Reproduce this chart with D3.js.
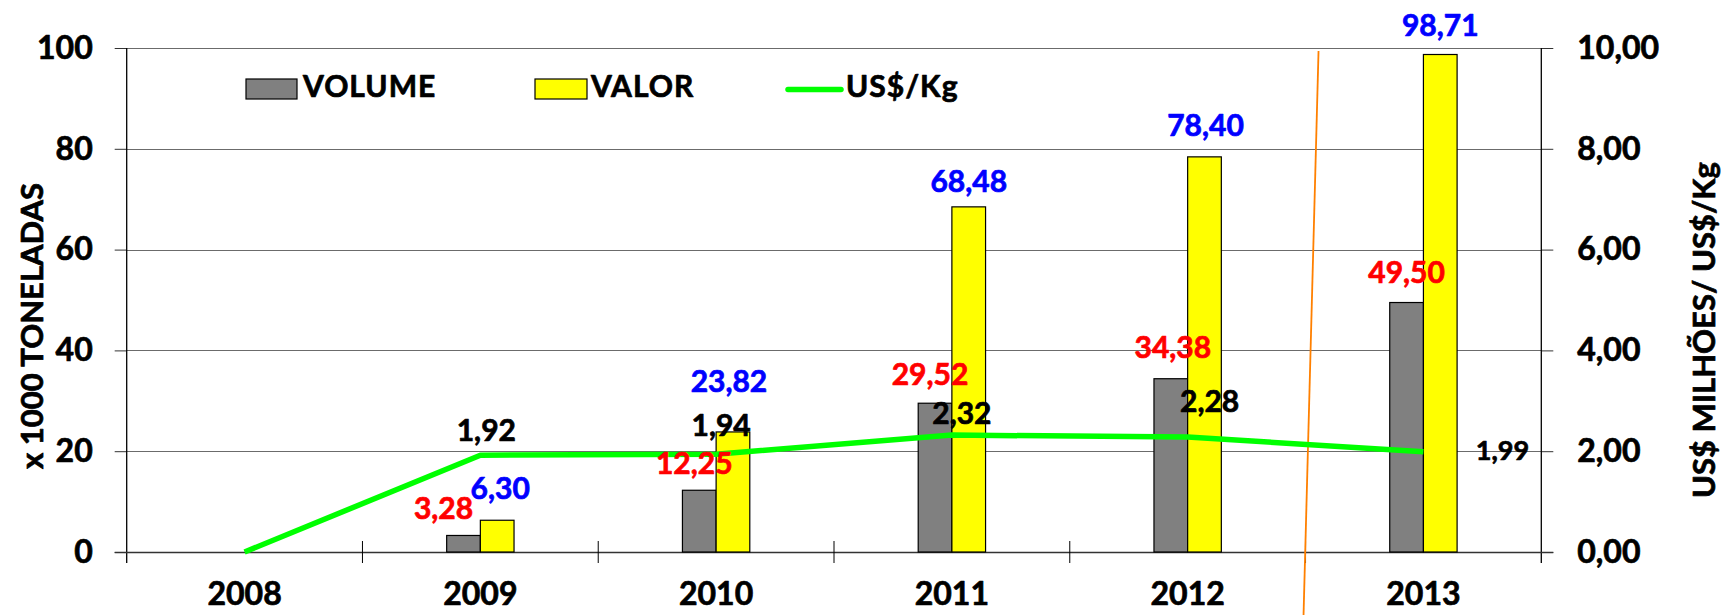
<!DOCTYPE html>
<html>
<head>
<meta charset="utf-8">
<script src="https://cdn.jsdelivr.net/npm/d3@7"></script>
<style>
  html, body { margin: 0; padding: 0; background: #fff; }
  svg { display: block; }
  text { font-family: Lato, "Open Sans", sans-serif; font-weight: bold; paint-order: stroke; stroke-width: 0.7px; stroke-linejoin: round; }
</style>
</head>
<body>
<svg id="chart" width="1723" height="615"></svg>
<script>
// ---- data ----
const years = ["2008", "2009", "2010", "2011", "2012", "2013"];
const volume = [null, 3.28, 12.25, 29.52, 34.38, 49.50];      // x 1000 toneladas
const valor = [null, 6.30, 23.82, 68.48, 78.40, 98.71];       // US$ milhões (left scale as drawn)
const precoKg = [0, 1.92, 1.94, 2.32, 2.28, 1.99];            // US$/Kg (right axis)
const leftTicks = [0, 20, 40, 60, 80, 100];
const rightTicks = [0, 2, 4, 6, 8, 10];
const seriesNames = ["VOLUME", "VALOR", "US$/Kg"];

// ---- label nudges (layout, px) ----
const volLabelOff = [null, [-20, -16], [-5, -16], [-5, -18], [2, -21], [0, -20]];
const valLabelOff = [null, [3, -21], [-4, -40], [0, -15], [1, -21], [0, -19]];
const lineLabelOff = [null, [6, -14], [5, -18], [10, -11], [22, -25], [79, 8]];

const fmt = v => v.toFixed(2).replace(".", ",");

const svg = d3.select("#chart");
const L = 126.7, R = 1541.3, T = 48, B = 552;

const x = d3.scaleBand().domain(years).range([L, R]).paddingInner(0).paddingOuter(0);
const yL = d3.scaleLinear().domain([0, 100]).range([B, T]);
const yR = d3.scaleLinear().domain([0, 10]).range([B, T]);
const bw = x.bandwidth() / 7;
const cx = d => x(d) + x.bandwidth() / 2;

function styleText(sel, size, color) {
  sel.attr("font-size", size).attr("fill", color).attr("stroke", color)
    .attr("font-family", "Lato").attr("font-weight", "bold");
}

// gridlines
svg.append("g").selectAll("line").data(leftTicks.slice(1)).join("line")
  .attr("x1", L).attr("x2", R)
  .attr("y1", d => Math.round(yL(d)) + 0.5).attr("y2", d => Math.round(yL(d)) + 0.5)
  .attr("stroke", "#6b6b6b").attr("stroke-width", 1.2);

// left axis
const gl = svg.append("g").attr("transform", `translate(${L},0)`)
  .call(d3.axisLeft(yL).tickValues(leftTicks).tickSize(12).tickPadding(22).tickFormat(d => d));
gl.select(".domain").remove();
gl.selectAll(".tick line").attr("stroke", "#333");
styleText(gl.selectAll(".tick text"), 32, "#000");

// right axis
const gr = svg.append("g").attr("transform", `translate(${R},0)`)
  .call(d3.axisRight(yR).tickValues(rightTicks).tickSize(12).tickPadding(24).tickFormat(fmt));
gr.select(".domain").remove();
gr.selectAll(".tick line").attr("stroke", "#333");
styleText(gr.selectAll(".tick text"), 32, "#000");

// vertical axis lines
[L, R].forEach(xx => {
  svg.append("line").attr("x1", xx).attr("x2", xx).attr("y1", T).attr("y2", B + 11)
    .attr("stroke", "#000").attr("stroke-width", 1.3);
});
// x axis line
svg.append("line").attr("x1", L - 12).attr("x2", R + 12).attr("y1", B + 0.5).attr("y2", B + 0.5)
  .attr("stroke", "#333").attr("stroke-width", 1.3);
// category boundary ticks (cross)
svg.append("g").selectAll("line").data(years.slice(1)).join("line")
  .attr("x1", d => x(d)).attr("x2", d => x(d))
  .attr("y1", B - 11).attr("y2", B + 11)
  .attr("stroke", "#000").attr("stroke-width", 1);

// year labels
styleText(svg.append("g").selectAll("text").data(years).join("text")
  .attr("x", d => cx(d)).attr("y", 605)
  .attr("text-anchor", "middle").text(d => d), 32, "#000");

// bars
const volData = years.map((y, i) => ({ y, v: volume[i], i })).filter(d => d.v != null);
const valData = years.map((y, i) => ({ y, v: valor[i], i })).filter(d => d.v != null);

svg.append("g").selectAll("rect").data(volData).join("rect")
  .attr("x", d => cx(d.y) - bw).attr("width", bw)
  .attr("y", d => yL(d.v)).attr("height", d => B - yL(d.v))
  .attr("fill", "#808080").attr("stroke", "#000").attr("stroke-width", 1.2);

svg.append("g").selectAll("rect").data(valData).join("rect")
  .attr("x", d => cx(d.y)).attr("width", bw)
  .attr("y", d => yL(d.v)).attr("height", d => B - yL(d.v))
  .attr("fill", "#FFFF00").attr("stroke", "#000").attr("stroke-width", 1.2);

// orange annotation line
svg.append("line")
  .attr("x1", x("2013") + 13).attr("y1", T + 3)
  .attr("x2", x("2013") - 2).attr("y2", 615)
  .attr("stroke", "#FF8000").attr("stroke-width", 1.8);

// price line
const line = d3.line().x((d, i) => cx(years[i])).y(d => yR(d));
svg.append("path").datum(precoKg).attr("d", line)
  .attr("fill", "none").attr("stroke", "#00FF00").attr("stroke-width", 5.5)
  .attr("stroke-linejoin", "round");

// data labels
styleText(svg.append("g").selectAll("text").data(volData).join("text")
  .attr("x", d => cx(d.y) - bw / 2 + volLabelOff[d.i][0])
  .attr("y", d => yL(d.v) + volLabelOff[d.i][1])
  .attr("text-anchor", "middle").text(d => fmt(d.v)), 30, "#FF0000");

styleText(svg.append("g").selectAll("text").data(valData).join("text")
  .attr("x", d => cx(d.y) + bw / 2 + valLabelOff[d.i][0])
  .attr("y", d => yL(d.v) + valLabelOff[d.i][1])
  .attr("text-anchor", "middle").text(d => fmt(d.v)), 30, "#0000FF");

const lineData = years.map((y, i) => ({ y, v: precoKg[i], i })).filter(d => d.i > 0);
styleText(svg.append("g").selectAll("text").data(lineData).join("text")
  .attr("x", d => cx(d.y) + lineLabelOff[d.i][0])
  .attr("y", d => yR(d.v) + lineLabelOff[d.i][1])
  .attr("text-anchor", "middle").text(d => fmt(d.v)), 30, "#000");
svg.selectAll("text").filter(function () { return this.textContent === "1,99"; }).attr("font-size", 27).attr("stroke-width", 0.3);

// legend
const lg = svg.append("g");
lg.append("rect").attr("x", 246).attr("y", 79).attr("width", 51).attr("height", 20)
  .attr("fill", "#808080").attr("stroke", "#000").attr("stroke-width", 1.2);
styleText(lg.append("text").attr("x", 303).attr("y", 97).attr("letter-spacing", 1).text(seriesNames[0]), 30, "#000");
lg.append("rect").attr("x", 535).attr("y", 79).attr("width", 52).attr("height", 20)
  .attr("fill", "#FFFF00").attr("stroke", "#000").attr("stroke-width", 1.2);
styleText(lg.append("text").attr("x", 591).attr("y", 97).attr("letter-spacing", 1).text(seriesNames[1]), 30, "#000");
lg.append("line").attr("x1", 788).attr("x2", 841).attr("y1", 89.5).attr("y2", 89.5)
  .attr("stroke", "#00FF00").attr("stroke-width", 5.5).attr("stroke-linecap", "round");
styleText(lg.append("text").attr("x", 846).attr("y", 97).attr("letter-spacing", 1).text(seriesNames[2]), 30, "#000");

// axis titles
styleText(svg.append("text").attr("transform", "translate(31,326) rotate(-90)")
  .attr("text-anchor", "middle").attr("dominant-baseline", "central")
  .text("x 1000 TONELADAS"), 31, "#000");
styleText(svg.append("text").attr("transform", "translate(1703,330) rotate(-90)")
  .attr("text-anchor", "middle").attr("dominant-baseline", "central")
  .text("US$ MILHÕES/ US$/Kg"), 31, "#000");
</script>
</body>
</html>
